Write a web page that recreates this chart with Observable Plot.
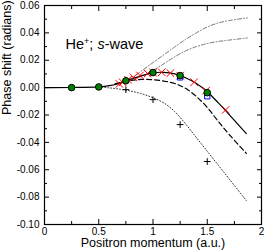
<!DOCTYPE html>
<html>
<head>
<meta charset="utf-8">
<script src="https://cdn.jsdelivr.net/npm/d3@7"></script>
<script src="https://cdn.jsdelivr.net/npm/@observablehq/plot@0.6"></script>
<style>
  html, body { margin: 0; padding: 0; background: white; }
  #chart { width: 266px; height: 252px; }
</style>
</head>
<body>
<div id="chart"></div>
<script>
// ---- data ----
const solidX = [0, 0.25, 0.5, 0.6, 0.7, 0.75, 0.8, 0.9, 1.0, 1.1, 1.2, 1.3, 1.4, 1.5, 1.6, 1.7, 1.86];
const solidY = [0, 0.0001, 0.0006, 0.0015, 0.0032, 0.0047, 0.0062, 0.0088, 0.0108, 0.0112, 0.0100, 0.0072, 0.0030, -0.0030, -0.0110, -0.0195, -0.0336];

const dashedX = [0.65, 0.7, 0.8, 0.9, 1.0, 1.1, 1.2, 1.3, 1.4, 1.5, 1.6, 1.7, 1.86];
const dashedY = [0.0028, 0.0038, 0.0053, 0.0060, 0.0058, 0.0048, 0.0030, -0.0005, -0.0065, -0.0145, -0.0245, -0.0340, -0.0480];

const dottedX = [0.5, 0.6, 0.7, 0.8, 0.9, 1.0, 1.1, 1.2, 1.3, 1.4, 1.5, 1.6, 1.7, 1.86];
const dottedY = [0.0005, -0.0002, -0.0012, -0.0026, -0.0046, -0.0074, -0.0112, -0.0175, -0.0265, -0.0365, -0.0465, -0.0565, -0.0665, -0.0825];

const dashDot1X = [0.7, 0.8, 0.9, 1.0, 1.1, 1.2, 1.3, 1.4, 1.5, 1.6, 1.7, 1.87];
const dashDot1Y = [0.0032, 0.0068, 0.0125, 0.0183, 0.0240, 0.0297, 0.0352, 0.0400, 0.0443, 0.0472, 0.0490, 0.0509];

const dashDot2X = [0.7, 0.8, 0.9, 1.0, 1.1, 1.2, 1.3, 1.4, 1.5, 1.6, 1.7, 1.87];
const dashDot2Y = [0.0032, 0.0058, 0.0085, 0.0125, 0.0175, 0.0225, 0.0268, 0.0300, 0.0322, 0.0337, 0.0347, 0.0363];

const greenX = [0.25, 0.5, 0.75, 1.0, 1.25, 1.5];
const greenY = [0.0, 0.0005, 0.0050, 0.0110, 0.0088, -0.0037];

const blueX = [1.25, 1.5];
const blueY = [0.0075, -0.0063];

const plusX = [0.75, 1.0, 1.25, 1.5];
const plusY = [-0.0015, -0.0088, -0.0270, -0.0540];

const crossX = [0.69, 0.72, 0.77, 0.82, 0.88, 0.95, 1.0, 1.08, 1.16, 1.25, 1.38, 1.49, 1.67];
const crossY = [0.0027, 0.0039, 0.0058, 0.0075, 0.0089, 0.0103, 0.0110, 0.0112, 0.0106, 0.0088, 0.0040, -0.0022, -0.0163];

const xTicks = [0, 0.5, 1, 1.5, 2];
const xTickLabels = ["0", "0.5", "1", "1.5", "2"];
const xMinor = [0.25, 0.75, 1.25, 1.75];
const yTicks = [0.06, 0.04, 0.02, 0, -0.02, -0.04, -0.06, -0.08, -0.10];
const yTickLabels = ["0.06", "0.04", "0.02", "0.00", "-0.02", "-0.04", "-0.06", "-0.08", "-0.10"];
const yMinor = [0.05, 0.03, 0.01, -0.01, -0.03, -0.05, -0.07, -0.09];

const xLabel = "Positron momentum (a.u.)";
const yLabel = "Phase shift (radians)";
const titleParts = ["He", "+", "; ", "s", "-wave"];

// ---- build tables ----
const zip = (xs, ys) => xs.map((x, i) => ({x, y: ys[i]}));
const solid = zip(solidX, solidY);
const dashed = zip(dashedX, dashedY);
const dotted = zip(dottedX, dottedY);
const dd1 = zip(dashDot1X, dashDot1Y);
const dd2 = zip(dashDot2X, dashDot2Y);
const green = zip(greenX, greenY);
const blue = zip(blueX, blueY);
const plus = zip(plusX, plusY);
const cross = zip(crossX, crossY);
const titleText = titleParts.join("");

const xfmt = d => xTickLabels[xTicks.indexOf(d)];
const yfmt = d => yTickLabels[yTicks.findIndex(v => Math.abs(v - d) < 1e-9)];
const blank = () => "";

const svg = Plot.plot({
  width: 266,
  height: 252,
  marginLeft: 44,
  marginRight: 5,
  marginTop: 5,
  marginBottom: 28,
  style: {fontFamily: "'Liberation Sans', Arial, sans-serif", fontSize: "10px", background: "white", color: "black"},
  x: {domain: [0, 2], axis: null},
  y: {domain: [-0.1, 0.06], axis: null},
  marks: [
    // labels
    Plot.axisX(xTicks, {anchor: "bottom", tickSize: 0, tickPadding: 3, tickFormat: xfmt, label: null, fontSize: 10}),
    Plot.axisY(yTicks, {anchor: "left", tickSize: 0, tickPadding: 5, tickFormat: yfmt, label: null, fontSize: 10}),
    // inward ticks
    Plot.axisX(xTicks, {anchor: "bottom", tickSize: -5, tickFormat: blank, label: null}),
    Plot.axisX(xMinor, {anchor: "bottom", tickSize: -3, tickFormat: blank, label: null}),
    Plot.axisX(xTicks, {anchor: "top", tickSize: -5, tickFormat: blank, label: null}),
    Plot.axisX(xMinor, {anchor: "top", tickSize: -3, tickFormat: blank, label: null}),
    Plot.axisY(yTicks, {anchor: "left", tickSize: -5, tickFormat: blank, label: null}),
    Plot.axisY(yMinor, {anchor: "left", tickSize: -3, tickFormat: blank, label: null}),
    Plot.axisY(yTicks, {anchor: "right", tickSize: -5, tickFormat: blank, label: null}),
    Plot.axisY(yMinor, {anchor: "right", tickSize: -3, tickFormat: blank, label: null}),
    // curves
    Plot.line(dd1, {x: "x", y: "y", stroke: "#555", strokeWidth: 0.8, strokeDasharray: "4,2,1,2", curve: "catmull-rom"}),
    Plot.line(dd2, {x: "x", y: "y", stroke: "#555", strokeWidth: 0.8, strokeDasharray: "4,2,1,2", curve: "catmull-rom"}),
    Plot.line(dotted, {x: "x", y: "y", stroke: "#333", strokeWidth: 1, strokeDasharray: "1,2", curve: "catmull-rom"}),
    Plot.line(dashed, {x: "x", y: "y", stroke: "black", strokeWidth: 1.2, strokeDasharray: "5,3", curve: "catmull-rom"}),
    Plot.line(solid, {x: "x", y: "y", stroke: "black", strokeWidth: 1.2, curve: "catmull-rom"}),
    // symbols
    Plot.dot(plus, {x: "x", y: "y", symbol: "plus", stroke: "black", r: 2.3, strokeWidth: 1}),
    Plot.dot(cross, {x: "x", y: "y", symbol: "times", stroke: "red", r: 3.5, strokeWidth: 1}),
    Plot.dot(blue, {x: "x", y: "y", symbol: "square", stroke: "blue", fill: "none", r: 3, strokeWidth: 1}),
    Plot.dot(green, {x: "x", y: "y", fill: "#008000", stroke: "black", r: 3.3, strokeWidth: 1}),
    // frame
    Plot.frame({stroke: "black", strokeWidth: 1.2}),
    // texts
    Plot.text([titleText], {frameAnchor: "top-left", dx: 21, dy: 33, textAnchor: "start", fontSize: 14.5}),
    Plot.text([xLabel], {frameAnchor: "bottom", dy: 22, fontSize: 12.5}),
    Plot.text([yLabel], {frameAnchor: "left", dx: -38, rotate: -90, fontSize: 12.5})
  ]
});

// rich title: superscript "+" and italic "s"
d3.select(svg).selectAll("text").filter(function () { return this.textContent === titleText; }).each(function () {
  const t = d3.select(this);
  t.text(null);
  t.append("tspan").text(titleParts[0]);
  t.append("tspan").attr("dy", "-5").attr("font-size", "9").text(titleParts[1]);
  t.append("tspan").attr("dy", "5").text(titleParts[2]);
  t.append("tspan").attr("font-style", "italic").text(titleParts[3]);
  t.append("tspan").text(titleParts[4]);
});

document.getElementById("chart").appendChild(svg);
</script>
</body>
</html>
